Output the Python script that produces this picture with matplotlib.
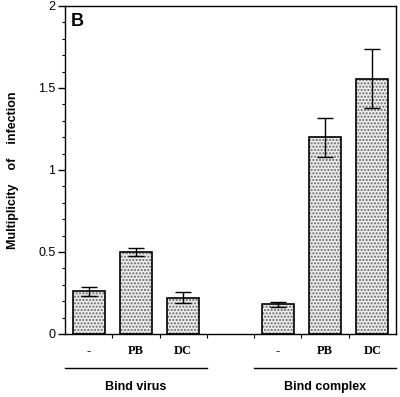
import matplotlib.pyplot as plt
import matplotlib.ticker as mtick

# values
positions = [0, 1, 2, 4, 5, 6]
conditions = ['-', 'PB', 'DC', '-', 'PB', 'DC']
moi = [0.26, 0.50, 0.22, 0.18, 1.20, 1.555]
moi_err = [0.027, 0.023, 0.033, 0.015, 0.118, 0.18]
groups = ['Bind virus', 'Bind complex']
group_spans = [(-0.5, 2.5), (3.5, 6.5)]
boundaries = [0.5, 1.5, 2.5, 3.5, 4.5, 5.5]

sans = ['Liberation Sans', 'DejaVu Sans']
serif = ['Liberation Serif', 'DejaVu Serif']

fig = plt.figure(figsize=(4.0, 3.97), dpi=100)
ax = fig.add_axes([0.1625, 0.1587, 0.8275, 0.8263])

# stippled fill, then black outline
ax.bar(positions, moi, width=0.68, color='#ececec', edgecolor='#666666',
       hatch='.....', linewidth=0)
ax.bar(positions, moi, width=0.68, fill=False, edgecolor='black', linewidth=1.2)
ax.errorbar(positions, moi, yerr=moi_err, fmt='none', ecolor='black',
            elinewidth=1.0, capsize=5.5, capthick=1.0)

ax.set_xlim(-0.5, 6.5)
ax.set_ylim(0, 2)
for s in ax.spines.values():
    s.set_linewidth(1.0)

ax.yaxis.set_major_locator(mtick.MultipleLocator(0.5))
ax.yaxis.set_minor_locator(mtick.MultipleLocator(0.1))
ax.yaxis.set_major_formatter(mtick.FuncFormatter(lambda v, p: f'{v:g}'))
ax.tick_params(axis='y', which='major', length=5, width=1, labelsize=9, pad=2)
ax.tick_params(axis='y', which='minor', length=2.5, width=0.8)
for lbl in ax.get_yticklabels():
    lbl.set_family(sans)

ax.set_xticks([])
ax.set_xticks(boundaries, minor=True)
ax.tick_params(axis='x', which='minor', length=3, width=0.8, labelbottom=False)

xt = ax.get_xaxis_transform()
for x, c in zip(positions, conditions):
    ax.text(x, -0.052, c, transform=xt, ha='center', va='center',
            family=serif, fontweight='bold', fontsize=9)

for g, (x0, x1) in zip(groups, group_spans):
    ax.plot([x0, x1], [-0.104, -0.104], color='black', lw=1.0,
            transform=xt, clip_on=False)
    ax.text((x0 + x1) / 2, -0.162, g, transform=xt, ha='center', va='center',
            family=sans, fontweight='bold', fontsize=9)

ax.text(0.016, 0.978, 'B', transform=ax.transAxes, ha='left', va='top',
        family=sans, fontweight='bold', fontsize=13)

fig.text(0.032, 0.572, 'Multiplicity    of    infection', rotation=90,
         ha='center', va='center', family=sans, fontweight='bold', fontsize=9)

fig.savefig('out.png', dpi=100)
